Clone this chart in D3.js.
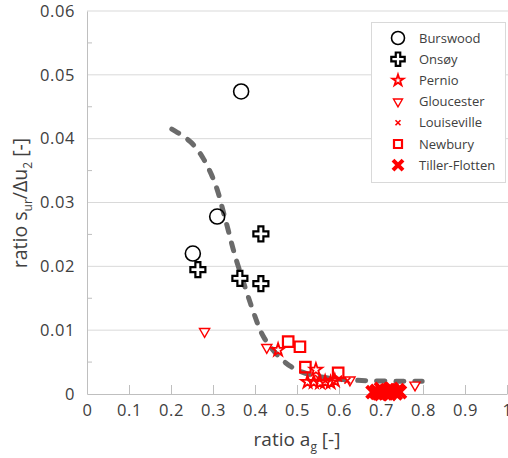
<!DOCTYPE html>
<html><head><meta charset="utf-8">
<script src="https://cdn.jsdelivr.net/npm/d3@7"></script>
<style>
body{margin:0;background:#fff;}
text{font-family:"Open Sans",sans-serif;fill:#404040;}
</style></head>
<body><svg id="c" width="508" height="458"></svg>
<script>
const xTicks=[0,0.1,0.2,0.3,0.4,0.5,0.6,0.7,0.8,0.9,1];
const yTicks=[0,0.01,0.02,0.03,0.04,0.05,0.06];
const burswood=[[0.367,0.0474],[0.31,0.0278],[0.252,0.022]];
const onsoy=[[0.414,0.0251],[0.264,0.0195],[0.364,0.0181],[0.414,0.0173]];
const pernio=[[0.455,0.0069],[0.545,0.0038],[0.525,0.0019],[0.54,0.0019],[0.555,0.0018],[0.567,0.0019],[0.58,0.0018],[0.59,0.0021]];
const gloucester=[[0.28,0.0098],[0.428,0.0073],[0.626,0.0022],[0.781,0.0014]];
const louiseville=[[0.55,0.0025],[0.60,0.0024],[0.62,0.0021]];
const newbury=[[0.479,0.0082],[0.507,0.0074],[0.52,0.0042],[0.598,0.0033]];
const tiller=[[0.68,0.0003],[0.69,0.0005],[0.695,0.0001],[0.70,0.0008],[0.705,0.0003],[0.71,0.0001],[0.715,0.0006],[0.72,0.0003],[0.725,0.0008],[0.73,0.0004],[0.735,0.0001],[0.74,0.0006],[0.745,0.0003],[0.70,0.0],[0.72,0.0],[0.69,0.0002]];
const trend=[[0.202,0.0415],[0.25,0.0396],[0.277,0.0370],[0.297,0.0344],[0.313,0.0316],[0.324,0.0286],[0.336,0.0258],[0.348,0.0226],[0.360,0.0200],[0.376,0.0168],[0.390,0.0140],[0.405,0.0112],[0.419,0.0088],[0.452,0.0061],[0.483,0.0042],[0.526,0.0030],[0.571,0.0025],[0.614,0.0022],[0.70,0.0020],[0.798,0.0020]];
const legendNames=["Burswood","Onsøy","Pernio","Gloucester","Louiseville","Newbury","Tiller-Flotten"];

const svg=d3.select("#c");
const x=d3.scaleLinear().domain([0,1]).range([87,507]);
const y=d3.scaleLinear().domain([0,0.06]).range([394,11]);

// gridlines
svg.append("g").selectAll("line").data(yTicks.filter(d=>d>0)).join("line")
 .attr("x1",87).attr("x2",508).attr("y1",d=>y(d)).attr("y2",d=>y(d))
 .attr("stroke","#d9d9d9").attr("stroke-width",1);
// minor y ticks
const minor=d3.range(0.005,0.06,0.01);
svg.append("g").selectAll("line").data(minor).join("line")
 .attr("x1",87).attr("x2",92).attr("y1",d=>y(d)).attr("y2",d=>y(d))
 .attr("stroke","#bfbfbf");
// axes
const xa=d3.axisBottom(x).tickValues(xTicks).tickSizeInner(-9).tickSizeOuter(0).tickPadding(20).tickFormat(d=>d3.format("")(d));
const gx=svg.append("g").attr("transform","translate(0,394)").call(xa);
gx.select(".domain").attr("stroke","#bfbfbf");
gx.selectAll(".tick line").attr("stroke","#bfbfbf");
gx.selectAll("text").attr("font-size","16.5px").attr("letter-spacing","0.6px").attr("fill","#404040").attr("font-family","Open Sans").attr("dy","0.1em");
const ya=d3.axisLeft(y).tickValues(yTicks).tickSize(0).tickPadding(12).tickFormat(d=>d3.format("")(d));
const gy=svg.append("g").attr("transform","translate(87,0)").call(ya);
gy.select(".domain").attr("stroke","#bfbfbf");
gy.selectAll("text").attr("font-size","16.5px").attr("letter-spacing","0.6px").attr("fill","#404040").attr("font-family","Open Sans");

// axis titles
const xt=svg.append("text").attr("x",297).attr("y",446).attr("text-anchor","middle").attr("font-size","19px").attr("fill","#404040");
xt.append("tspan").text("ratio a");
xt.append("tspan").text("g").attr("font-size","12px").attr("dy","5");
xt.append("tspan").text(" [-]").attr("dy","-5");
const yt=svg.append("text").attr("transform","translate(27,203) rotate(-90)").attr("text-anchor","middle").attr("font-size","19.5px").attr("fill","#404040");
yt.append("tspan").text("ratio s");
yt.append("tspan").text("ur").attr("font-size","12px").attr("dy","5");
yt.append("tspan").text("/Δu").attr("dy","-5");
yt.append("tspan").text("2").attr("font-size","12px").attr("dy","5");
yt.append("tspan").text(" [-]").attr("dy","-5");

// trend line
svg.append("path").datum(trend)
 .attr("d",d3.line().x(d=>x(d[0])).y(d=>y(d[1])).curve(d3.curveBasis))
 .attr("fill","none").attr("stroke","#6b6b6b").attr("stroke-width",5)
 .attr("stroke-linecap","round").attr("stroke-dasharray","8,11");

// markers
const red="#ff0000";
function drawMarkers(data,kind,g){
  const s=g.selectAll(null).data(data).join("g").attr("transform",d=>`translate(${x(d[0])},${y(d[1])})`);
  marker(s,kind,false);
}
function marker(s,kind,leg){
  if(kind==="circle") s.append("circle").attr("r",leg?6.5:7.5).attr("fill","none").attr("stroke","#000").attr("stroke-width",1.6);
  if(kind==="plus") s.append("path").attr("d",d3.symbol(d3.symbolCross,leg?100:125)()).attr("fill","#fff").attr("stroke","#000").attr("stroke-width",2.2);
  if(kind==="star") s.append("path").attr("d",d3.symbol(d3.symbolStar,leg?40:50)()).attr("fill","none").attr("stroke",red).attr("stroke-width",1.8);
  if(kind==="tri") s.append("path").attr("d",d3.symbol(d3.symbolTriangle,leg?35:45)()).attr("transform","rotate(180)").attr("fill","#fff").attr("stroke",red).attr("stroke-width",1.4);
  if(kind==="x"){const r=leg?2.5:3;s.append("path").attr("d",`M${-r},${-r}L${r},${r}M${-r},${r}L${r},${-r}`).attr("stroke",red).attr("stroke-width",1.6);}
  if(kind==="sq") s.append("path").attr("d",d3.symbol(d3.symbolSquare,leg?64:110)()).attr("fill","none").attr("stroke",red).attr("stroke-width",2.2);
  if(kind==="X"){const r=leg?5:6;s.append("path").attr("d",`M${-r},${-r}L${r},${r}M${-r},${r}L${r},${-r}`).attr("stroke",red).attr("stroke-width",4).attr("stroke-linecap","butt");}
}
const mg=svg.append("g");
drawMarkers(gloucester,"tri",mg.append("g"));
drawMarkers(pernio,"star",mg.append("g"));
drawMarkers(louiseville,"x",mg.append("g"));
drawMarkers(newbury,"sq",mg.append("g"));
drawMarkers(tiller,"X",mg.append("g"));
drawMarkers(burswood,"circle",mg.append("g"));
drawMarkers(onsoy,"plus",mg.append("g"));

// legend
const kinds=["circle","plus","star","tri","x","sq","X"];
const lg=svg.append("g");
lg.append("rect").attr("x",371.5).attr("y",22.5).attr("width",134).attr("height",160).attr("fill","#fff").attr("stroke","#d9d9d9");
legendNames.forEach((n,i)=>{
  const yy=38+i*21.2;
  const g=lg.append("g").attr("transform",`translate(398,${yy})`);
  marker(g,kinds[i],true);
  lg.append("text").attr("x",419).attr("y",yy).attr("dy","0.35em").attr("font-size","13px").attr("fill","#404040").text(n);
});
</script></body></html>
